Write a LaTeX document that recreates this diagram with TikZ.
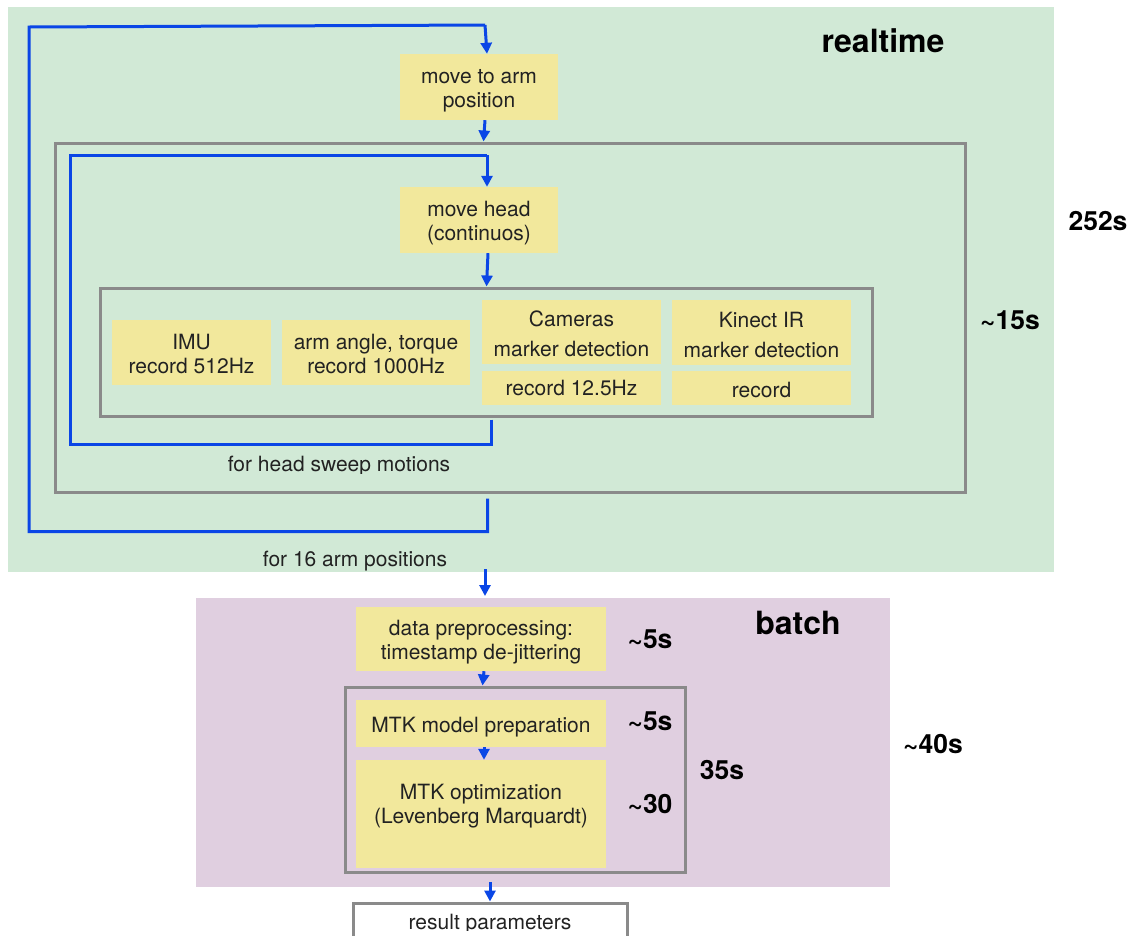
\documentclass[tikz,border=0pt]{standalone}
\usepackage{fontspec}
\setmainfont{TeX Gyre Heros}
\usetikzlibrary{arrows.meta,calc}
\definecolor{greenbg}{HTML}{D1E9D6}
\definecolor{pinkbg}{HTML}{E0CFE0}
\definecolor{yfill}{HTML}{F2E89C}
\definecolor{gframe}{HTML}{8A8A8A}
\definecolor{bl}{HTML}{0A46E6}
\definecolor{txt}{HTML}{222222}
\begin{document}
\begin{tikzpicture}[x=1pt,y=-1pt,
  ybox/.style={fill=yfill, inner sep=0pt},
  frame/.style={draw=gframe, line width=3pt, inner sep=0pt},
  flow/.style={draw=bl, line width=3pt, -{Triangle[length=11pt,width=11pt]}},
  loopline/.style={draw=bl, line width=3pt},
  plain/.style={text=txt, align=center, font=\fontsize{21}{24}\selectfont, inner sep=0pt},
  wide/.style={text=txt, align=center, font=\fontsize{21}{30}\selectfont, inner sep=0pt},
  big/.style={text=black, font=\fontsize{32}{36}\bfseries\selectfont, inner sep=0pt},
  tim/.style={text=black, font=\fontsize{26.5}{30}\bfseries\selectfont, inner sep=0pt}]
\useasboundingbox (0,0) rectangle (1132,935);
\clip (0,0) rectangle (1132,935);
\fill[white] (0,0) rectangle (1132,935);
% regions
\fill[greenbg] (8,7) rectangle (1054,572);
\fill[pinkbg] (196,598) rectangle (890,887);
\node[big] (rt) at (883,41) {realtime};
\node[tim] (t252) at (1098,221) {252s};
\node[tim] (t15) at (1010,320) {\textasciitilde15s};
% realtime nodes
\node[ybox, minimum width=158pt, minimum height=66pt] (arm) at (479,87) {};
\node[plain] (armT) at (479,91) {move to arm\\position};
\node[frame, minimum width=910pt, minimum height=349pt] (outer) at (510,317.5) {};
\node[ybox, minimum width=158pt, minimum height=66pt] (head) at (479,220) {};
\node[plain] (headT) at (479,223) {move head\\(continuos)};
\node[frame, minimum width=772pt, minimum height=128pt] (inner) at (486,352) {};
\node[ybox, minimum width=159pt, minimum height=65pt] (imu) at (191.5,352.5) {};
\node[plain] (imuT) at (191.5,354) {IMU\\record 512Hz};
\node[ybox, minimum width=188pt, minimum height=65pt] (armang) at (376,352.5) {};
\node[plain] (armangT) at (376,354) {arm angle, torque\\record 1000Hz};
\node[ybox, minimum width=179pt, minimum height=64pt] (cam) at (571.5,332) {};
\node[wide] (camT) at (571.5,333.5) {Cameras\\marker detection};
\node[ybox, minimum width=179pt, minimum height=34pt] (camrec) at (571.5,388) {};
\node[plain] (camrecT) at (571.5,388) {record 12.5Hz};
\node[ybox, minimum width=179pt, minimum height=65pt] (kin) at (761.5,332.5) {};
\node[wide] (kinT) at (761.5,335) {Kinect IR\\marker detection};
\node[ybox, minimum width=179pt, minimum height=34pt] (kinrec) at (761.5,388) {};
\node[plain] (kinrecT) at (761.5,389.5) {record};
\begin{scope}
  \clip (0,0) rectangle (1132,473);
  \node[plain] (lhead) at (339,466) {for head sweep motions};
\end{scope}
\node[plain] (larm) at (355,561) {for 16 arm positions};
% realtime connectors
\draw[flow] ($(arm.south)+(6,0)$) -- ($(outer.north west)+(430,0)$);
\draw[flow] ($(head.south)+(9,0)$) -- ($(inner.north west)+(388,0)$);
\coordinate (ist) at ($(inner.south west)+(393,2)$);
\draw[loopline] (ist) -- ++(0,25) -| (70,155) -- (484,155) -- (487,155);
\draw[flow] (487,155) -- ($(head.north)+(8,0)$);
\coordinate (ost) at ($(outer.south west)+(434,5)$);
\draw[loopline] (ost) -- ++(0,33) -| (29,27) -- (485,25);
\draw[flow] (485,25) -- ($(arm.north)+(8,0)$);
% batch
\node[big] (bt) at (798,623) {batch};
\node[ybox, minimum width=250pt, minimum height=64pt] (pre) at (481,639) {};
\node[plain] (preT) at (481,642.5) {data preprocessing:\\timestamp de-jittering};
\node[tim] (t5a) at (650,639) {\textasciitilde5s};
\node[frame, minimum width=340pt, minimum height=185pt] (mtk) at (515,779.5) {};
\node[ybox, minimum width=250pt, minimum height=47pt] (prep) at (481,723.5) {};
\node[plain] (prepT) at (481,727) {MTK model preparation};
\node[tim] (t5b) at (650,721) {\textasciitilde5s};
\node[ybox, minimum width=250pt, minimum height=108pt] (opt) at (481,814) {};
\node[plain] (optT) at (481,806) {MTK optimization\\(Levenberg Marquardt)};
\node[tim] (t30) at (650,804) {\textasciitilde30};
\node[tim] (t35) at (722,770) {35s};
\node[tim] (t40) at (933,744) {\textasciitilde40s};
\node[draw=gframe, line width=3pt, fill=white, minimum width=274pt, minimum height=60pt, inner sep=0pt] (res) at (490,933) {};
\begin{scope}
  \clip (0,0) rectangle (1132,930);
  \node[plain] (resT) at (490,924) {result parameters};
\end{scope}
% batch connectors
\coordinate (gbot) at (485,569);
\draw[flow] (gbot) -- (485,596);
\draw[flow] ($(pre.south)+(3,0)$) -- ($(mtk.north west)+(139,0)$);
\draw[flow] ($(prep.south)+(3,0)$) -- ($(opt.north)+(3,0)$);
\coordinate (pbot) at (490,882);
\draw[flow] (pbot) -- (res.north);
\end{tikzpicture}
\end{document}
